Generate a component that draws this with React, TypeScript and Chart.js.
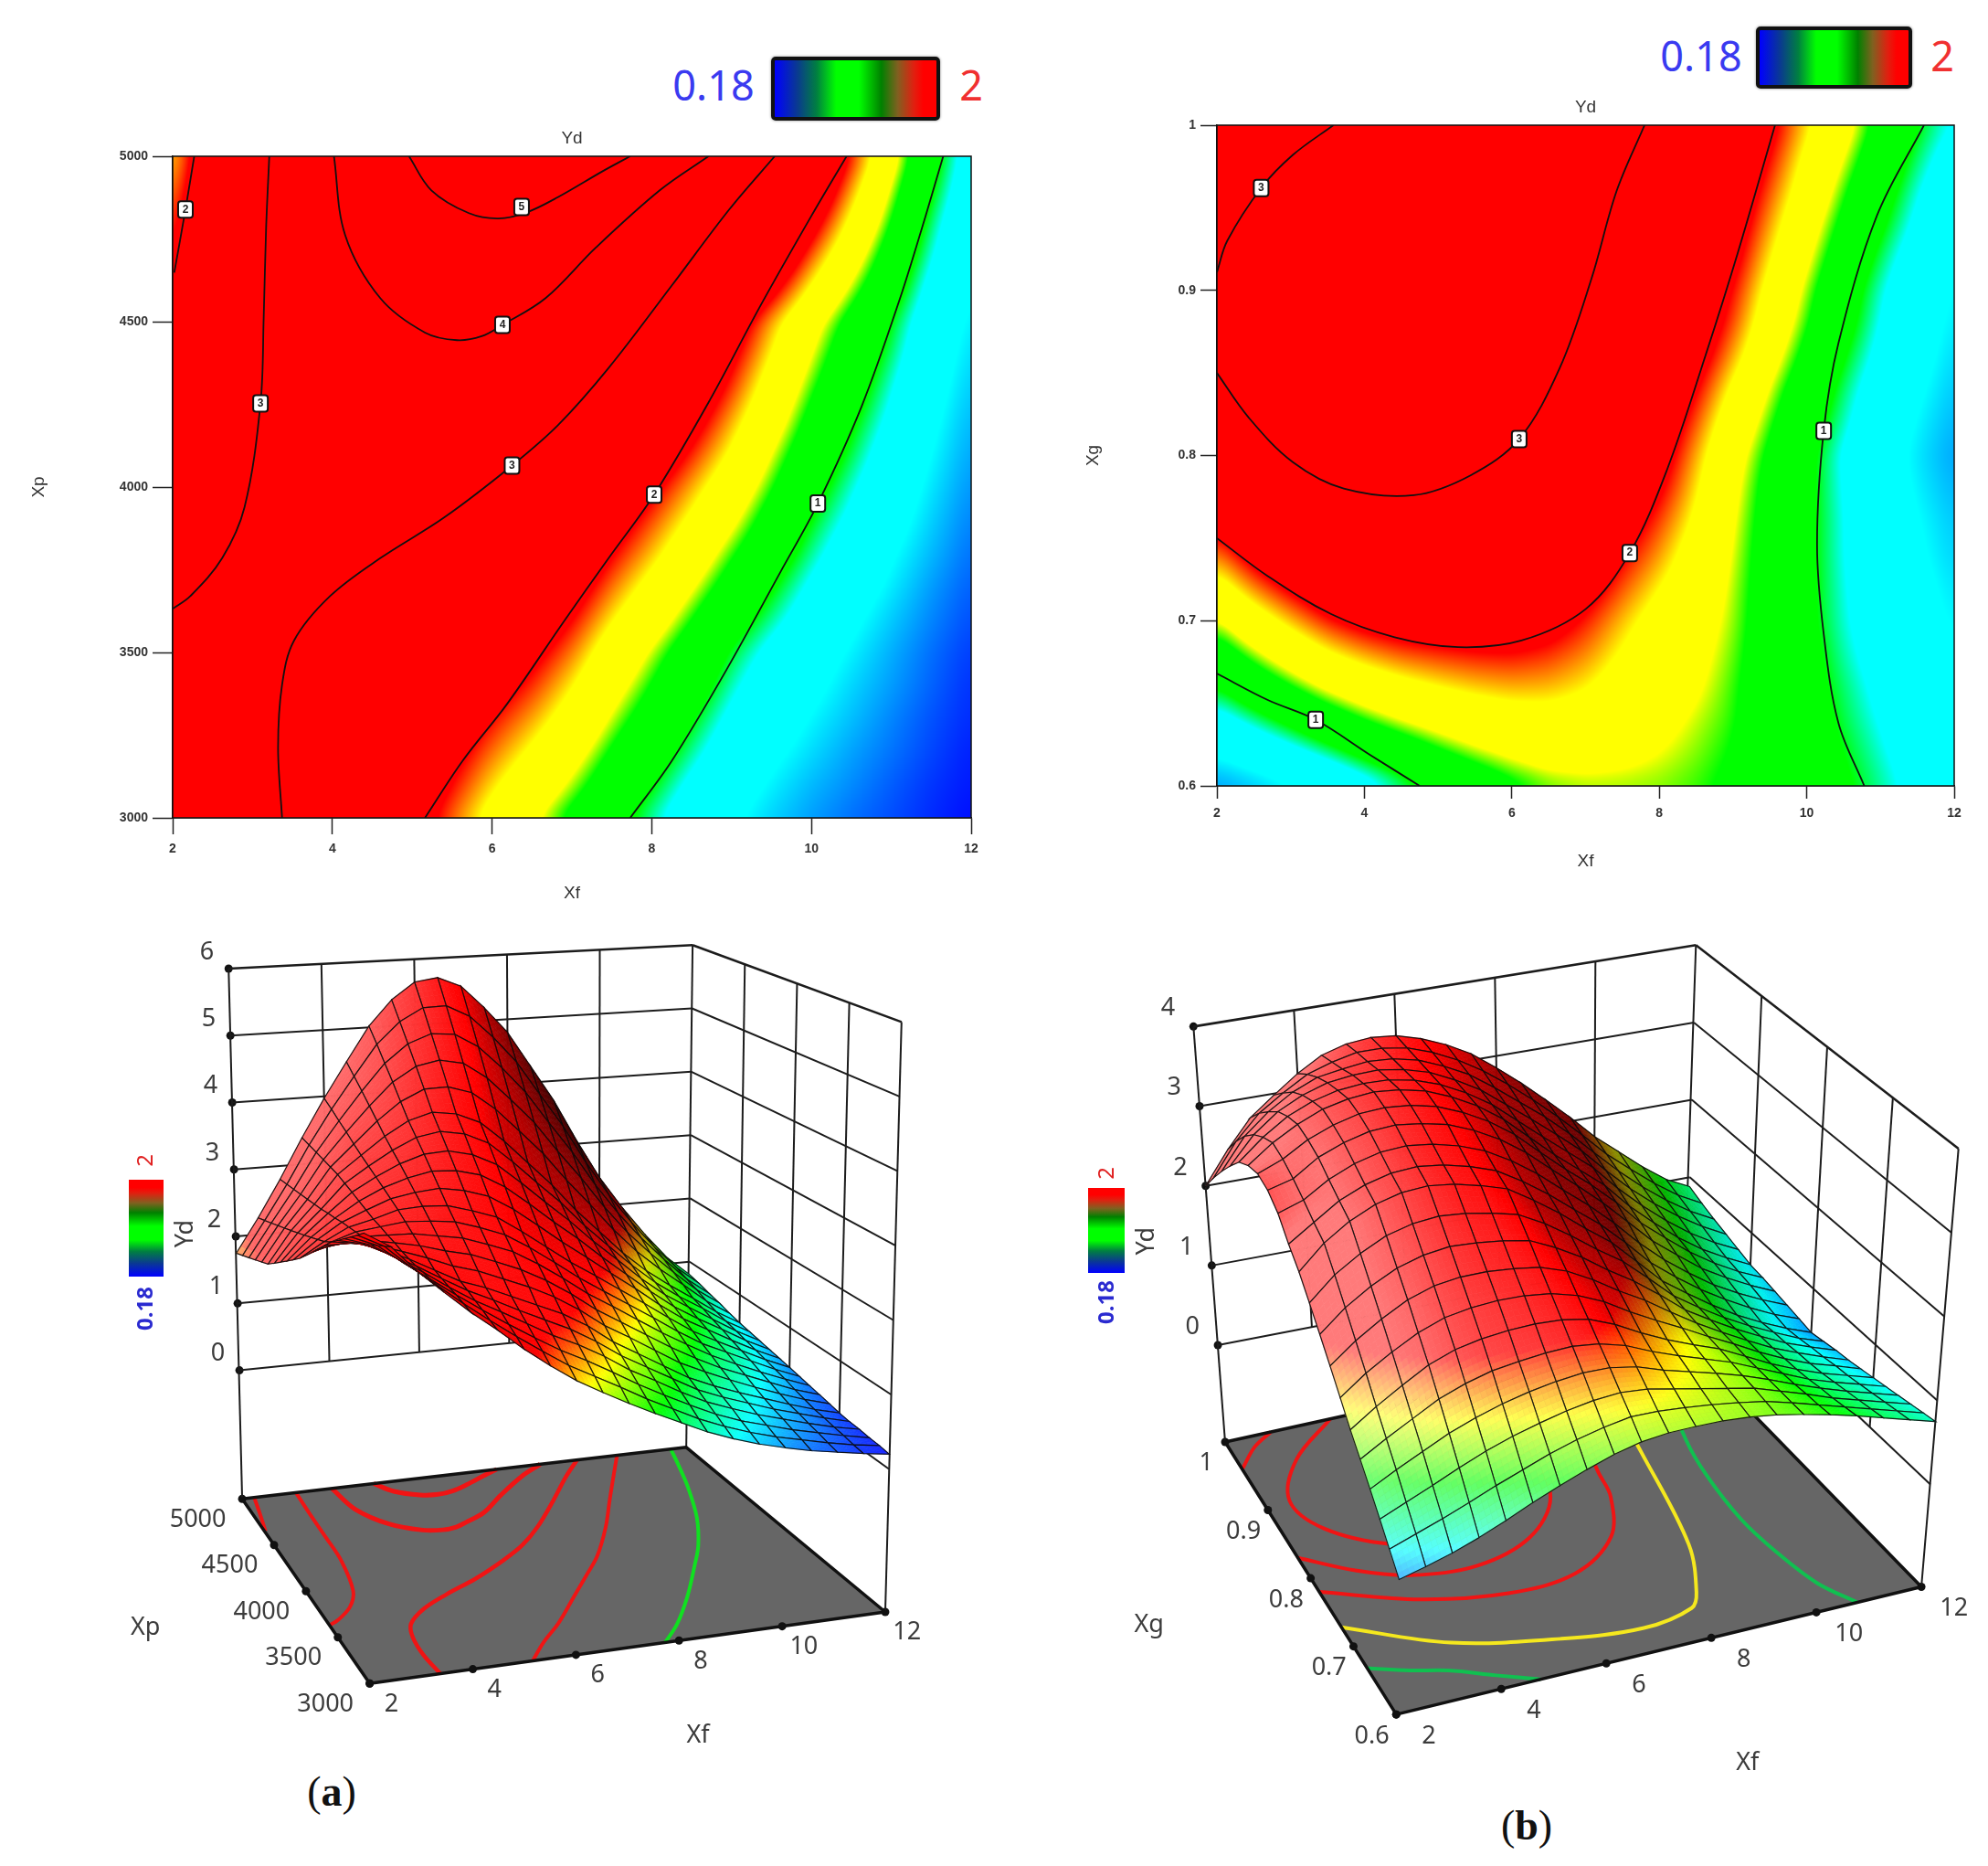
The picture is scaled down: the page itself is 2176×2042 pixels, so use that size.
import React, { useEffect, useRef } from "react";
import { Chart, registerables } from "chart.js";
Chart.register(...registerables);

// ---------- data: Xf columns, Xp / Xg rows, Yd values ----------
const xfGrid = [2,2.5,3,3.5,4,4.5,5,5.5,6,6.5,7,7.5,8,8.5,9,9.5,10,10.5,11,11.5,12];
const xfTicks = [2,4,6,8,10,12];
const xpTicks = [3000,3500,4000,4500,5000];
const xgTicks = [0.6,0.7,0.8,0.9,1];
const ydTicksA = [0,1,2,3,4,5,6];
const ydTicksB = [0,1,2,3,4];

const ydA = [
[3.80,3.60,3.25,2.95,2.66,2.40,2.12,1.87,1.64,1.45,1.27,1.10,.94,.78,.65,.54,.45,.37,.31,.25,.20],
[3.70,3.53,3.23,2.96,2.69,2.44,2.20,1.97,1.75,1.57,1.39,1.20,1.03,.86,.72,.60,.50,.42,.34,.27,.22],
[3.60,3.46,3.20,2.96,2.72,2.49,2.27,2.06,1.86,1.69,1.50,1.30,1.12,.95,.79,.66,.56,.46,.38,.30,.23],
[3.50,3.39,3.18,2.97,2.74,2.53,2.35,2.16,1.97,1.81,1.62,1.40,1.22,1.03,.86,.73,.61,.51,.41,.32,.25],
[3.40,3.32,3.15,2.97,2.77,2.58,2.42,2.25,2.09,1.93,1.73,1.50,1.31,1.12,.93,.79,.67,.55,.45,.35,.26],
[3.30,3.25,3.13,2.98,2.80,2.62,2.50,2.35,2.20,2.05,1.85,1.60,1.40,1.20,1.00,.85,.72,.60,.48,.37,.28],
[3.17,3.17,3.11,3.00,2.88,2.74,2.64,2.50,2.36,2.19,1.98,1.73,1.53,1.32,1.11,.95,.80,.66,.53,.41,.31],
[3.04,3.09,3.09,3.03,2.96,2.86,2.78,2.65,2.51,2.33,2.11,1.86,1.65,1.44,1.23,1.04,.87,.73,.59,.45,.34],
[2.91,3.01,3.06,3.05,3.04,2.98,2.92,2.80,2.67,2.47,2.24,1.99,1.78,1.56,1.34,1.14,.95,.79,.64,.50,.37],
[2.78,2.93,3.04,3.08,3.12,3.10,3.06,2.95,2.82,2.61,2.37,2.12,1.90,1.68,1.46,1.23,1.02,.86,.70,.54,.40],
[2.65,2.85,3.02,3.10,3.20,3.22,3.20,3.10,2.98,2.75,2.50,2.25,2.03,1.80,1.57,1.33,1.10,.92,.75,.58,.43],
[2.54,2.79,3.00,3.14,3.27,3.33,3.36,3.30,3.19,2.98,2.72,2.45,2.20,1.94,1.69,1.42,1.18,.99,.80,.62,.46],
[2.43,2.73,2.97,3.18,3.34,3.45,3.52,3.50,3.41,3.21,2.94,2.65,2.38,2.08,1.80,1.52,1.26,1.05,.86,.66,.49],
[2.32,2.67,2.95,3.22,3.41,3.57,3.68,3.70,3.62,3.45,3.16,2.85,2.55,2.22,1.92,1.61,1.34,1.12,.91,.70,.52],
[2.21,2.61,2.92,3.26,3.48,3.68,3.84,3.90,3.84,3.68,3.38,3.05,2.73,2.36,2.03,1.71,1.42,1.18,.97,.74,.55],
[2.10,2.55,2.90,3.30,3.55,3.80,4.00,4.10,4.05,3.90,3.60,3.25,2.90,2.50,2.15,1.80,1.50,1.25,1.02,.78,.58],
[2.03,2.49,2.88,3.32,3.63,3.94,4.20,4.36,4.37,4.26,3.99,3.64,3.28,2.85,2.46,2.05,1.69,1.39,1.12,.84,.62],
[1.96,2.43,2.86,3.34,3.72,4.08,4.41,4.62,4.69,4.62,4.38,4.03,3.66,3.20,2.77,2.30,1.88,1.53,1.21,.91,.67],
[1.89,2.37,2.84,3.36,3.80,4.22,4.61,4.88,5.01,4.98,4.77,4.43,4.04,3.55,3.08,2.55,2.08,1.67,1.31,.97,.71],
[1.82,2.31,2.82,3.38,3.89,4.36,4.82,5.14,5.33,5.34,5.16,4.82,4.42,3.90,3.39,2.80,2.27,1.81,1.40,1.04,.76],
[1.75,2.25,2.80,3.40,3.97,4.50,5.02,5.40,5.65,5.70,5.55,5.20,4.80,4.25,3.70,3.05,2.45,1.95,1.50,1.10,.80],
];
const ydB = [
[.45,.52,.60,.70,.82,.95,1.07,1.18,1.28,1.35,1.38,1.38,1.37,1.34,1.29,1.22,1.14,1.05,.95,.85,.75],
[.64,.74,.84,.95,1.07,1.18,1.29,1.38,1.45,1.50,1.49,1.46,1.42,1.37,1.31,1.22,1.12,1.02,.92,.82,.72],
[.83,.95,1.07,1.20,1.32,1.42,1.50,1.57,1.62,1.64,1.61,1.54,1.47,1.40,1.33,1.22,1.11,.99,.89,.79,.69],
[1.02,1.17,1.31,1.45,1.56,1.65,1.72,1.77,1.80,1.79,1.73,1.62,1.53,1.44,1.34,1.22,1.09,.97,.86,.76,.66],
[1.21,1.38,1.54,1.70,1.81,1.89,1.93,1.96,1.97,1.93,1.84,1.70,1.58,1.47,1.36,1.22,1.08,.94,.83,.73,.63],
[1.40,1.60,1.78,1.95,2.06,2.12,2.15,2.16,2.14,2.08,1.95,1.78,1.63,1.50,1.38,1.22,1.06,.92,.80,.70,.60],
[1.62,1.84,2.02,2.18,2.29,2.34,2.36,2.35,2.31,2.22,2.08,1.89,1.72,1.56,1.39,1.23,1.06,.91,.78,.68,.57],
[1.84,2.07,2.26,2.42,2.52,2.56,2.56,2.53,2.48,2.37,2.20,2.00,1.82,1.61,1.41,1.23,1.06,.90,.77,.65,.54],
[2.06,2.31,2.50,2.65,2.74,2.78,2.76,2.72,2.66,2.51,2.33,2.11,1.91,1.68,1.43,1.24,1.06,.90,.75,.63,.52],
[2.28,2.55,2.74,2.89,2.97,3.00,2.97,2.91,2.83,2.66,2.45,2.22,2.01,1.74,1.46,1.25,1.06,.89,.74,.60,.49],
[2.50,2.78,2.98,3.12,3.20,3.22,3.18,3.10,3.00,2.80,2.58,2.33,2.10,1.80,1.50,1.28,1.07,.88,.72,.58,.46],
[2.68,2.88,3.08,3.21,3.29,3.31,3.27,3.19,3.08,2.89,2.67,2.42,2.18,1.89,1.58,1.34,1.12,.93,.76,.61,.49],
[2.90,3.00,3.19,3.32,3.40,3.42,3.38,3.30,3.18,3.00,2.78,2.52,2.27,1.99,1.68,1.41,1.18,.97,.80,.65,.52],
[3.03,3.11,3.31,3.43,3.51,3.53,3.49,3.42,3.29,3.12,2.90,2.63,2.37,2.10,1.80,1.50,1.26,1.03,.85,.69,.55],
[3.08,3.20,3.38,3.50,3.58,3.60,3.57,3.50,3.37,3.20,2.98,2.70,2.43,2.18,1.90,1.58,1.33,1.09,.89,.72,.58],
[3.03,3.25,3.42,3.55,3.62,3.65,3.62,3.55,3.42,3.25,3.03,2.75,2.47,2.22,1.97,1.65,1.38,1.13,.92,.75,.60],
[2.92,3.17,3.37,3.50,3.58,3.61,3.60,3.54,3.43,3.27,3.07,2.81,2.55,2.30,2.05,1.73,1.45,1.20,.98,.80,.65],
[2.72,3.05,3.28,3.43,3.53,3.57,3.58,3.53,3.44,3.29,3.11,2.87,2.63,2.38,2.12,1.81,1.52,1.27,1.05,.86,.70],
[2.50,2.88,3.13,3.32,3.45,3.50,3.54,3.52,3.45,3.32,3.16,2.94,2.70,2.46,2.19,1.89,1.60,1.34,1.11,.91,.75],
[2.26,2.66,2.96,3.16,3.34,3.44,3.51,3.51,3.46,3.35,3.20,3.01,2.78,2.53,2.26,1.97,1.67,1.42,1.18,.97,.81],
[2.00,2.40,2.75,2.98,3.20,3.38,3.47,3.50,3.47,3.38,3.25,3.08,2.85,2.60,2.33,2.05,1.75,1.50,1.25,1.03,.88],
];

// contour lines, as [Xf, Xp] pairs
const contourA5 = [[4.96,5000],[5.24,4897],[5.71,4828],[6.08,4812],[6.43,4830],[6.83,4877],[7.38,4954],[7.73,5000]];
const contourA4 = [[4.02,5000],[4.16,4762],[4.60,4571],[5.16,4467],[5.56,4444],[5.87,4456],[6.13,4490],[6.67,4571],[7.30,4724],[8.10,4897],[8.71,5000]];
const contourA3r = [[3.37,3000],[3.32,3211],[3.37,3402],[3.52,3536],[3.97,3670],[4.60,3785],[5.40,3908],[6.25,4065],[6.83,4188],[7.46,4360],[8.25,4609],[8.97,4839],[9.54,5000]];
const contourA3l = [[2,3632],[2.22,3670],[2.62,3785],[2.90,3939],[3.10,4253],[3.14,4513],[3.17,4782],[3.21,5000]];
const contourA2l = [[2.27,5000],[2.16,4839],[2.02,4648]];
const contourA2 = [[5.16,3000],[5.63,3172],[6.19,3345],[6.90,3594],[7.46,3785],[8.03,3977],[8.73,4264],[9.37,4552],[10.0,4820],[10.44,5000]];
const contourA1 = [[7.73,3000],[8.25,3172],[8.92,3441],[9.62,3747],[10.08,3950],[10.63,4245],[11.11,4571],[11.43,4820],[11.65,5000]];
const labelsA = [[2.16,4839,"2"],[6.37,4847,"5"],[6.13,4490,"4"],[3.10,4253,"3"],[6.25,4065,"3"],[8.03,3977,"2"],[10.08,3950,"1"]];

// contour lines, as [Xf, Xg] pairs
const contourB3c = [[2,.911],[2.14,.93],[2.6,.962],[3.03,.982],[3.58,1]];
const contourB3 = [[2,.85],[2.43,.823],[3.03,.796],[3.72,.78],[4.67,.776],[5.44,.788],[6.1,.81],[6.65,.853],[7.08,.907],[7.42,.96],[7.8,1]];
const contourB2 = [[2,.75],[2.69,.727],[3.55,.704],[4.41,.69],[5.27,.684],[6.13,.688],[7.0,.707],[7.6,.741],[8.11,.792],[8.63,.861],[9.06,.922],[9.57,1]];
const contourB1l = [[2,.668],[2.69,.652],[3.34,.64],[4.07,.619],[4.75,.6]];
const contourB1r = [[10.78,.6],[10.43,.638],[10.23,.692],[10.14,.746],[10.23,.815],[10.43,.868],[10.95,.945],[11.59,1]];
const labelsB = [[2.6,.962,"3"],[6.1,.81,"3"],[7.6,.741,"2"],[10.23,.815,"1"],[3.34,.64,"1"]];

// lines on the floor of plot (b)
const floorBRedCorner = [[3.0,1],[2.5,.985],[2,.96]];
const floorBRedInner = [[4.3,1],[3.14,.957],[2.51,.906],[2.81,.86],[3.82,.82],[4.6,.815]];
const floorBRedMiddle = [[2,.83],[2.9,.796],[3.79,.774],[5.06,.766],[6.33,.787],[7.24,.834],[7.5,.9],[7.8,1]];
const floorBRedOuter = [[2,.78],[3.67,.74],[5.25,.721],[6.62,.726],[7.72,.763],[8.28,.816],[8.42,.852],[9.2,1]];
const floorBYellow = [[2,.728],[3.69,.675],[5.56,.646],[7.05,.634],[8.08,.645],[8.37,.664],[8.91,.729],[9.46,.864],[10,1]];

// ---------- layout (page pixels) ----------
const geomA = {
  zMax: 6, xMin: 2, xMax: 12, yMin: 3000, yMax: 5000,
  floor: { F: [403,1846], R: [973,1767], BL: [262,1642], B: [753,1585] },
  zero:  { F: [401,1679], R: [977,1609], BL: [259,1500], B: [756,1450] },
  top:   { F: [394,1157], R: [991,1115], BL: [247,1056], B: [760,1030] },
};
const geomB = {
  zMax: 4, xMin: 2, xMax: 12, yMin: 0.6, yMax: 1,
  floor: { F: [1527,1880], R: [2107,1739], BL: [1338,1579], B: [1843,1468] },
  zero:  { F: [1531,1775], R: [2117,1626], BL: [1330,1472], B: [1849,1372] },
  top:   { F: [1523,1383], R: [2148,1255], BL: [1303,1120], B: [1858,1030] },
};

const bil = (q: any, u: number, v: number) => {
  const f = (k: number) => (1-u)*(1-v)*q.F[k] + u*(1-v)*q.R[k] + (1-u)*v*q.BL[k] + u*v*q.B[k];
  return { x: f(0), y: f(1) };
};
const U = (g: any, a: number) => (a - g.xMin) / (g.xMax - g.xMin);
const V = (g: any, b: number) => (b - g.yMin) / (g.yMax - g.yMin);
const project = (g: any, a: number, b: number, z: number) => {
  const p = bil(g.zero, U(g,a), V(g,b)), q = bil(g.top, U(g,a), V(g,b)), t = z / g.zMax;
  return { x: p.x + (q.x-p.x)*t, y: p.y + (q.y-p.y)*t };
};
const onFloor = (g: any, a: number, b: number) => bil(g.floor, U(g,a), V(g,b));

// ---------- colour ----------
const mapStops: any[] = [[.18,[0,0,255]],[.62,[0,255,255]],[.9,[0,255,255]],[1.02,[0,255,0]],[1.32,[0,255,0]],[1.42,[255,255,0]],[1.72,[255,255,0]],[1.97,[255,0,0]]];
const surfaceStops: any[] = [[.18,[0,0,255]],[.635,[0,255,255]],[1.09,[0,255,0]],[1.545,[255,255,0]],[2,[255,0,0]]];
const ramp = (stops: any[], z: number) => {
  if (z <= stops[0][0]) return stops[0][1];
  for (let i = 1; i < stops.length; i++) {
    if (z <= stops[i][0]) {
      const t = (z - stops[i-1][0]) / (stops[i][0] - stops[i-1][0]);
      return stops[i][1].map((c: number, k: number) => c*t + stops[i-1][1][k]*(1-t));
    }
  }
  return stops[stops.length-1][1];
};
const shade = (c: number[], s: number, l: any) => {
  const t = s + l.offset;
  if (t > 0) { const m = Math.min(l.maxW, t*l.kw); return c.map((v) => v + (255-v)*m); }
  const m = 1 - Math.min(l.maxD, -t*l.kd);
  return c.map((v) => v*m);
};
const css = (c: number[]) => `rgb(${c[0]|0},${c[1]|0},${c[2]|0})`;

// softens a field of values along rows and columns, clamped at the edges
const soften = (f: Float32Array, w: number, h: number, r: number) => {
  const run = (count: number, len: number, at: (a: number, b: number) => number) => {
    const buf = new Float32Array(len);
    for (let a = 0; a < count; a++) {
      for (let b = 0; b < len; b++) buf[b] = f[at(a,b)];
      let sum = 0;
      for (let k = -r; k <= r; k++) sum += buf[Math.max(0, Math.min(len-1, k))];
      for (let b = 0; b < len; b++) {
        f[at(a,b)] = sum / (2*r+1);
        sum += buf[Math.min(len-1, b+r+1)] - buf[Math.max(0, b-r)];
      }
    }
  };
  for (let p = 0; p < 2; p++) {
    run(h, w, (a, b) => a*w+b);
    run(w, h, (a, b) => b*w+a);
  }
};

// ---------- 2-D contour chart ----------
const heatPlugin = {
  id: "heat",
  beforeDatasetsDraw(chart: any) {
    const table = chart.options.plugins.heat.table, rows = chart.options.plugins.heat.rowRange;
    const { left, top, right, bottom } = chart.chartArea;
    const w = Math.round(right-left), h = Math.round(bottom-top);
    const field = new Float32Array(w*h);
    for (let py = 0; py < h; py++) {
      const yv = chart.scales.y.getValueForPixel(top+py+.5);
      const fy = Math.max(0, Math.min(19.999, (yv-rows[0])/(rows[1]-rows[0])*20));
      const j = Math.floor(fy), ty = fy-j;
      for (let px = 0; px < w; px++) {
        const xv = chart.scales.x.getValueForPixel(left+px+.5);
        const fx = Math.max(0, Math.min(19.999, (xv-xfGrid[0])/(xfGrid[1]-xfGrid[0])));
        const i = Math.floor(fx), tx = fx-i;
        field[py*w+px] = (table[j][i]*(1-tx)+table[j][i+1]*tx)*(1-ty)+(table[j+1][i]*(1-tx)+table[j+1][i+1]*tx)*ty;
      }
    }
    soften(field, w, h, 11);
    const img = chart.ctx.createImageData(w, h);
    for (let k = 0; k < w*h; k++) {
      const c = ramp(mapStops, field[k]), o = k*4;
      img.data[o]=c[0]; img.data[o+1]=c[1]; img.data[o+2]=c[2]; img.data[o+3]=255;
    }
    chart.ctx.putImageData(img, Math.round(left), Math.round(top));
    chart.ctx.save();
    chart.ctx.strokeStyle = "#111"; chart.ctx.lineWidth = 1.5;
    chart.ctx.strokeRect(left, top, right-left, bottom-top);
    chart.ctx.restore();
  },
  afterDatasetsDraw(chart: any) {
    const { ctx, scales } = chart;
    ctx.save();
    ctx.font = "bold 12px 'Liberation Sans'";
    ctx.textAlign = "center"; ctx.textBaseline = "middle";
    chart.options.plugins.heat.labels.forEach((l: any) => {
      const x = scales.x.getPixelForValue(l[0]), y = scales.y.getPixelForValue(l[1]);
      ctx.fillStyle = "#fff"; ctx.strokeStyle = "#111"; ctx.lineWidth = 2;
      ctx.beginPath(); ctx.roundRect(x-8, y-9, 16, 18, 3); ctx.fill(); ctx.stroke();
      ctx.fillStyle = "#222"; ctx.fillText(l[2], x, y);
    });
    ctx.restore();
  },
};

const line2D = (name: string, pts: number[][]) => ({
  label: name, data: pts.map((p) => ({ x: p[0], y: p[1] })), showLine: true, tension: .35,
  borderColor: "#111", borderWidth: 1.8, pointRadius: 0, fill: false,
});

const contourConfig = (o: any) => ({
  type: "scatter",
  data: { datasets: o.lines.map((l: any, i: number) => line2D("Yd contour " + (i+1), l)) },
  plugins: [heatPlugin],
  options: {
    responsive: false, animation: false, events: [],
    layout: { padding: { left: 0, right: o.padRight, top: 0, bottom: 0 } },
    plugins: {
      legend: { display: false }, tooltip: { enabled: false },
      title: { display: true, text: "Yd", fullSize: false, color: "#333", font: { family: "'Liberation Sans'", size: 19, weight: "normal" }, padding: { top: o.titleTop, bottom: o.titleBottom } },
      heat: { table: o.table, rowRange: o.rowRange, labels: o.labels },
    },
    scales: {
      x: {
        type: "linear", min: 2, max: 12,
        afterFit: (s: any) => { s.height = o.xHeight; },
        ticks: { stepSize: 2, color: "#333", padding: 8, maxRotation: 0, autoSkip: false, font: { family: "'Liberation Sans'", size: 14, weight: "bold" } },
        grid: { drawOnChartArea: false, drawTicks: true, tickLength: o.xTick, tickColor: "#222", tickWidth: 1.5 },
        border: { color: "#111", width: 1.5 },
        title: { display: true, text: "Xf", color: "#333", padding: { top: 0, bottom: 0 }, font: { family: "'Liberation Sans'", size: 19 } },
      },
      y: {
        type: "linear", min: o.rowRange[0], max: o.rowRange[1],
        afterFit: (s: any) => { s.width = o.yWidth; },
        ticks: { stepSize: o.yStep, color: "#333", padding: 5, autoSkip: false, callback: (v: number) => String(+(+v).toFixed(1)), font: { family: "'Liberation Sans'", size: 14, weight: "bold" } },
        grid: { drawOnChartArea: false, drawTicks: true, tickLength: o.yTick, tickColor: "#222", tickWidth: 1.5 },
        border: { color: "#111", width: 1.5 },
        title: { display: true, text: o.yTitle, color: "#333", padding: { top: o.yTitlePad, bottom: 0 }, font: { family: "'Liberation Sans'", size: 19 } },
      },
    },
  },
});

// ---------- 3-D surface chart: projected values on hidden linear scales ----------
const surfacePlugin = {
  id: "surface",
  beforeDatasetsDraw(chart: any) {
    const { g } = chart.options.plugins.surface;
    const { ctx, scales } = chart;
    const P = (q: number[]) => [scales.x.getPixelForValue(q[0]), scales.y.getPixelForValue(q[1])];
    const f = g.floor, c = [f.F, f.R, f.B, f.BL].map(P);
    ctx.save();
    ctx.beginPath(); c.forEach((q: number[], i: number) => i ? ctx.lineTo(q[0],q[1]) : ctx.moveTo(q[0],q[1])); ctx.closePath();
    ctx.fillStyle = "#666"; ctx.fill();
    ctx.restore();
  },
  afterDatasetsDraw(chart: any) {
    const { g, table, light, dsIndex, texts } = chart.options.plugins.surface;
    const { ctx, scales } = chart;
    const pts = chart.data.datasets[dsIndex].data;
    const N = 21, at = (i: number, j: number) => pts[j*N+i];
    const px = (i: number, j: number) => [scales.x.getPixelForValue(at(i,j).x), scales.y.getPixelForValue(at(i,j).y)];
    const slope = (i: number, j: number) => {
      const a = Math.max(0,i-1), b = Math.min(N-1,i+1);
      return (table[j][b]-table[j][a]) / (xfGrid[b]-xfGrid[a]);
    };
    const f = g.floor, c = [f.F, f.R, f.B, f.BL, f.F];
    ctx.save();
    ctx.strokeStyle = "#111"; ctx.lineWidth = 3.5; ctx.lineJoin = "round";
    ctx.beginPath();
    c.forEach((q: number[], i: number) => { const X = scales.x.getPixelForValue(q[0]), Y = scales.y.getPixelForValue(q[1]); i ? ctx.lineTo(X,Y) : ctx.moveTo(X,Y); });
    ctx.stroke();
    ctx.lineJoin = "miter";
    const SUB = 5;
    for (let j = N-2; j >= 0; j--) {
      for (let i = N-2; i >= 0; i--) {
        const A = px(i,j), B = px(i+1,j), C = px(i+1,j+1), D = px(i,j+1);
        const za = table[j][i], zb = table[j][i+1], zc = table[j+1][i+1], zd = table[j+1][i];
        const sa = slope(i,j), sb = slope(i+1,j), sc = slope(i+1,j+1), sd = slope(i,j+1);
        const mix = (a: number, b: number, c2: number, d: number, s: number, t: number) => (a*(1-s)+b*s)*(1-t)+(d*(1-s)+c2*s)*t;
        const pos = (s: number, t: number) => [mix(A[0],B[0],C[0],D[0],s,t), mix(A[1],B[1],C[1],D[1],s,t)];
        for (let m = 0; m < SUB; m++) for (let n = 0; n < SUB; n++) {
          const s0 = m/SUB, s1 = (m+1)/SUB, t0 = n/SUB, t1 = (n+1)/SUB, sm = (s0+s1)/2, tm = (t0+t1)/2;
          const col = css(shade(ramp(surfaceStops, mix(za,zb,zc,zd,sm,tm)), mix(sa,sb,sc,sd,sm,tm), light));
          const q = [pos(s0,t0), pos(s1,t0), pos(s1,t1), pos(s0,t1)];
          ctx.fillStyle = col; ctx.strokeStyle = col; ctx.lineWidth = .7;
          ctx.beginPath(); ctx.moveTo(q[0][0],q[0][1]); q.slice(1).forEach((r) => ctx.lineTo(r[0],r[1])); ctx.closePath();
          ctx.fill(); ctx.stroke();
        }
        ctx.strokeStyle = "rgba(10,10,10,.9)"; ctx.lineWidth = 1.2;
        ctx.beginPath(); ctx.moveTo(A[0],A[1]); ctx.lineTo(B[0],B[1]); ctx.lineTo(C[0],C[1]); ctx.lineTo(D[0],D[1]); ctx.closePath(); ctx.stroke();
      }
    }
    ctx.textAlign = "center"; ctx.textBaseline = "middle"; ctx.fillStyle = "#3c3c3c";
    ctx.font = "27px 'Noto Sans'";
    texts.forEach((t: any) => {
      const X = scales.x.getPixelForValue(t.x), Y = scales.y.getPixelForValue(t.y);
      ctx.save(); ctx.translate(X,Y); if (t.rot) ctx.rotate(t.rot); ctx.fillText(t.s,0,0); ctx.restore();
    });
    ctx.restore();
  },
};

const seg = (name: string, a: any, b: any, w = 2) => ({
  label: name, data: [a, b], showLine: true, borderColor: "#1c1c1c", borderWidth: w, pointRadius: 0, fill: false, tension: 0,
});

const surfaceConfig = (o: any) => {
  const g = o.g, sets: any[] = [];
  const xs = o.xTicks, ys = o.yTicks, zs = o.zTicks;
  const yT = ys[ys.length-1], yF = ys[0], xL = xs[0], xR = xs[xs.length-1];
  zs.forEach((z: number) => {
    sets.push(seg("back wall " + z, project(g,xL,yT,z), project(g,xR,yT,z), z === g.zMax ? 2.6 : 2));
    sets.push(seg("side wall " + z, project(g,xR,yT,z), project(g,xR,yF,z), z === g.zMax ? 2.6 : 2));
  });
  xs.slice(1,-1).forEach((x: number) => sets.push(seg("back vertical " + x, project(g,x,yT,0), project(g,x,yT,g.zMax))));
  ys.slice(1,-1).forEach((y: number) => sets.push(seg("side vertical " + y, project(g,xR,y,0), project(g,xR,y,g.zMax))));
  sets.push(seg("corner 1", onFloor(g,xL,yT), project(g,xL,yT,g.zMax)));
  sets.push(seg("corner 2", onFloor(g,xR,yT), project(g,xR,yT,g.zMax)));
  sets.push(seg("corner 3", onFloor(g,xR,yF), project(g,xR,yF,g.zMax)));
  o.floorLines.forEach((l: any, i: number) => sets.push({
    label: "floor contour " + (i+1), data: l.pts.map((p: number[]) => onFloor(g,p[0],p[1])), showLine: true, tension: .35,
    borderColor: l.color, borderWidth: l.width, pointRadius: 0, fill: false,
  }));
  const dots = [
    ...zs.map((z: number) => project(g,xL,yT,z)),
    ...xs.map((x: number) => onFloor(g,x,yF)),
    ...ys.map((y: number) => onFloor(g,xL,y)),
  ];
  sets.push({ label: "ticks", data: dots, showLine: false, pointRadius: 4.5, pointBackgroundColor: "#111", pointBorderWidth: 0 });
  const surf: any[] = [];
  o.table.forEach((row: number[], j: number) => row.forEach((z, i) => {
    surf.push(project(g, xfGrid[i], g.yMin + (g.yMax-g.yMin)*j/20, z));
  }));
  sets.push({ label: "Yd surface", data: surf, showLine: false, pointRadius: 0 });
  const texts = [
    ...zs.map((z: number) => { const p = project(g,xL,yT,z); return { s: String(z), x: p.x+o.off.z[0], y: p.y+o.off.z[1] }; }),
    ...xs.map((x: number) => { const p = onFloor(g,x,yF); return { s: String(x), x: p.x+o.off.x[0], y: p.y+o.off.x[1] }; }),
    ...ys.map((y: number) => { const p = onFloor(g,xL,y); return { s: String(y), x: p.x+o.off.y[0]+(y===1?6:0), y: p.y+o.off.y[1] }; }),
    ...o.titles,
  ];
  return {
    type: "scatter",
    data: { datasets: sets },
    plugins: [surfacePlugin],
    options: {
      responsive: false, animation: false, events: [],
      layout: { padding: 0 },
      plugins: {
        legend: { display: false }, tooltip: { enabled: false },
        surface: { g, table: o.table, light: o.light, dsIndex: sets.length-1, texts },
      },
      scales: {
        x: { type: "linear", display: false, min: o.left, max: o.left+o.width },
        y: { type: "linear", display: false, reverse: true, min: o.top, max: o.top+o.height },
      },
    },
  };
};

// ---------- React ----------
function ChartBox({ left, top, width, height, make }: any) {
  const ref = useRef<HTMLCanvasElement>(null);
  useEffect(() => {
    const chart = new Chart(ref.current as any, make());
    return () => chart.destroy();
  }, []);
  return <canvas ref={ref} width={width} height={height} style={{ position: "absolute", left, top, width, height, display: "block" }} />;
}
function Txt({ x, y, size, color, rot, children, family, weight }: any) {
  return (
    <span style={{
      position: "absolute", left: x, top: y, whiteSpace: "nowrap", lineHeight: 1,
      transform: `translate(-50%,-50%)${rot ? ` rotate(${rot}deg)` : ""}`,
      fontFamily: family || "'Noto Sans'", fontSize: size, color, fontWeight: weight || "normal",
    }}>{children}</span>
  );
}
const legendStops = "#0000ff 0%, #0a3a90 14%, #008040 26%, #00ff00 38%, #00ff00 52%, #008000 66%, #806020 76%, #e02010 86%, #ff0000 92%, #ff0000 100%";
function BigLegend({ x, y, w, h }: any) {
  return <div style={{ position: "absolute", left: x, top: y, width: w, height: h, boxSizing: "border-box", border: "4px solid #111", borderRadius: 5, background: `linear-gradient(to right, ${legendStops})`, boxShadow: "0 0 3px #888" }} />;
}
function SmallLegend({ x, y, w, h }: any) {
  return <div style={{ position: "absolute", left: x, top: y, width: w, height: h, background: `linear-gradient(to top, ${legendStops})` }} />;
}

const floorLinesA = [
  { pts: contourA5, color: "#f01414", width: 5 }, { pts: contourA4, color: "#f01414", width: 5 },
  { pts: contourA3r, color: "#f01414", width: 4.5 }, { pts: contourA3l, color: "#f01414", width: 4 },
  { pts: contourA2l, color: "#f01414", width: 4 }, { pts: contourA2, color: "#f01414", width: 4 },
  { pts: contourA1, color: "#10e020", width: 4 },
];
const floorLinesB = [
  { pts: floorBRedCorner, color: "#f01414", width: 4 }, { pts: floorBRedInner, color: "#f01414", width: 4 },
  { pts: floorBRedMiddle, color: "#f01414", width: 4 }, { pts: floorBRedOuter, color: "#f01414", width: 4 },
  { pts: floorBYellow, color: "#f5e81e", width: 4 }, { pts: contourB1l, color: "#10c050", width: 4 },
  { pts: contourB1r, color: "#10c050", width: 4 },
];

export default function App() {
  return (
    <div style={{ position: "absolute", left: 0, top: 0, width: 2176, height: 2042, overflow: "hidden", background: "#fff" }}>
      <ChartBox left={30} top={140} width={1050} height={849} make={() => contourConfig({
        lines: [contourA5, contourA4, contourA3r, contourA3l, contourA2l, contourA2, contourA1],
        table: ydA, rowRange: [3000,5000], labels: labelsA, yStep: 500, yTitle: "Xp",
        padRight: 17, titleTop: 0, titleBottom: 8.2, xHeight: 94, yWidth: 159, xTick: 18, yTick: 22, yTitlePad: 1,
      })} />
      <ChartBox left={1180} top={106} width={980} height={848} make={() => contourConfig({
        lines: [contourB3c, contourB3, contourB2, contourB1l, contourB1r],
        table: ydB, rowRange: [.6,1], labels: labelsB, yStep: .1, yTitle: "Xg",
        padRight: 21, titleTop: 0, titleBottom: 8.2, xHeight: 94, yWidth: 152, xTick: 14, yTick: 18, yTitlePad: 5,
      })} />
      <ChartBox left={120} top={1000} width={900} height={920} make={() => surfaceConfig({
        g: geomA, table: ydA, xTicks: xfTicks, yTicks: xpTicks, zTicks: ydTicksA, floorLines: floorLinesA,
        left: 120, top: 1000, width: 900, height: 920,
        light: { offset: .45, kw: .28, maxW: .42, kd: 1, maxD: .88 },
        off: { z: [-24,-18], x: [24,23], y: [-49,23] },
        titles: [{ s: "Xp", x: 155, y: 1784 }, { s: "Xf", x: 766, y: 1904 }, { s: "Yd", x: 200, y: 1349, rot: -Math.PI/2 }],
      })} />
      <ChartBox left={1170} top={1000} width={1000} height={950} make={() => surfaceConfig({
        g: geomB, table: ydB, xTicks: xfTicks, yTicks: xgTicks, zTicks: ydTicksB, floorLines: floorLinesB,
        left: 1170, top: 1000, width: 1000, height: 950,
        light: { offset: .25, kw: .8, maxW: .48, kd: 1.7, maxD: .85 },
        off: { z: [-28,-20], x: [36,24], y: [-27,24] },
        titles: [{ s: "Xg", x: 1254, y: 1781 }, { s: "Xf", x: 1915, y: 1934 }, { s: "Yd", x: 1252, y: 1357, rot: -Math.PI/2 }],
      })} />

      <Txt x={781} y={92} size={45} color="#3a3af0">0.18</Txt>
      <BigLegend x={844} y={62} w={185} h={70} />
      <Txt x={1063} y={92} size={45} color="#f03030">2</Txt>
      <Txt x={1862} y={60} size={45} color="#3a3af0">0.18</Txt>
      <BigLegend x={1922} y={29} w={171} h={68} />
      <Txt x={2126} y={60} size={45} color="#f03030">2</Txt>

      <SmallLegend x={141} y={1291} w={38} h={106} />
      <Txt x={158} y={1270} size={24} color="#e02020" rot={-90}>2</Txt>
      <Txt x={158} y={1432} size={24} color="#2a2ad0" rot={-90} weight="bold">0.18</Txt>
      <SmallLegend x={1191} y={1300} w={40} h={93} />
      <Txt x={1210} y={1284} size={24} color="#e02020" rot={-90}>2</Txt>
      <Txt x={1210} y={1425} size={24} color="#2a2ad0" rot={-90} weight="bold">0.18</Txt>

      <Txt x={363} y={1961} size={46} color="#111" family="'Liberation Serif'">(<b>a</b>)</Txt>
      <Txt x={1671} y={1998} size={46} color="#111" family="'Liberation Serif'">(<b>b</b>)</Txt>
    </div>
  );
}
